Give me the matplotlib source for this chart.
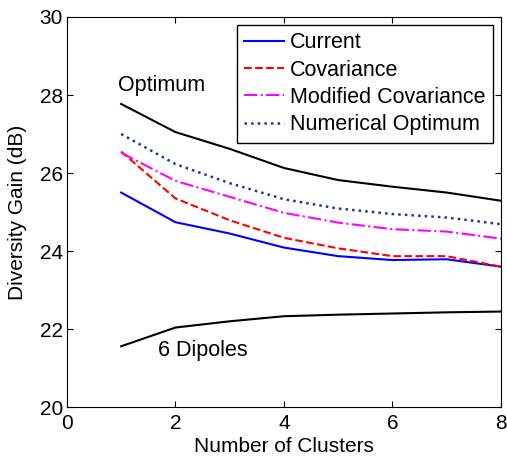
import numpy as np
import matplotlib.pyplot as plt

plt.rcParams['font.family'] = ['Liberation Sans', 'DejaVu Sans']
plt.rcParams['font.size'] = 15

# number of clusters
clusters = [1, 2, 3, 4, 5, 6, 7, 8]

# diversity gain (dB)
optimum = [27.77, 27.05, 26.62, 26.13, 25.82, 25.65, 25.50, 25.29]
dipoles6 = [21.56, 22.04, 22.20, 22.33, 22.37, 22.40, 22.43, 22.45]
current = [25.50, 24.74, 24.45, 24.09, 23.87, 23.77, 23.79, 23.60]
covariance = [26.55, 25.35, 24.79, 24.34, 24.07, 23.87, 23.87, 23.60]
mod_cov = [26.52, 25.80, 25.39, 24.98, 24.73, 24.56, 24.50, 24.32]
num_opt = [27.00, 26.23, 25.74, 25.33, 25.09, 24.95, 24.86, 24.69]

fig = plt.figure(figsize=(5.07, 4.59), dpi=100)
ax = fig.add_axes([0.132, 0.113, 0.856, 0.85])

ax.plot(clusters, current, '-', color='#0000ff', lw=1.5, label='Current')
ax.plot(clusters, covariance, '--', color='#ff0000', lw=1.5, label='Covariance')
ax.plot(clusters, mod_cov, '-.', color='#ff00ff', lw=1.5, label='Modified Covariance')
ax.plot(clusters, num_opt, ':', color='#1a3a8a', lw=1.8, label='Numerical Optimum')
ax.plot(clusters, optimum, '-', color='black', lw=1.5)
ax.plot(clusters, dipoles6, '-', color='black', lw=1.5)

ax.text(0.94, 28.25, 'Optimum', va='center', ha='left', fontsize=15.5)
ax.text(1.68, 21.45, '6 Dipoles', va='center', ha='left', fontsize=15.5)

ax.set_xlim(0, 8)
ax.set_ylim(20, 30)
ax.set_xticks([0, 2, 4, 6, 8])
ax.set_yticks([20, 22, 24, 26, 28, 30])
ax.tick_params(direction='in', top=True, right=True, length=4)
ax.tick_params(axis='x', pad=5)
ax.tick_params(axis='y', pad=3)
ax.set_xlabel('Number of Clusters', labelpad=3)
ax.set_ylabel('Diversity Gain (dB)', labelpad=9)

leg = ax.legend(loc='upper right', fancybox=False, edgecolor='black',
                framealpha=1, borderpad=0.35, labelspacing=0.3,
                handlelength=1.85, handletextpad=0.3, borderaxespad=0.35,
                fontsize=15.5)
leg.get_frame().set_linewidth(1.0)

fig.savefig('out.png', dpi=100)
